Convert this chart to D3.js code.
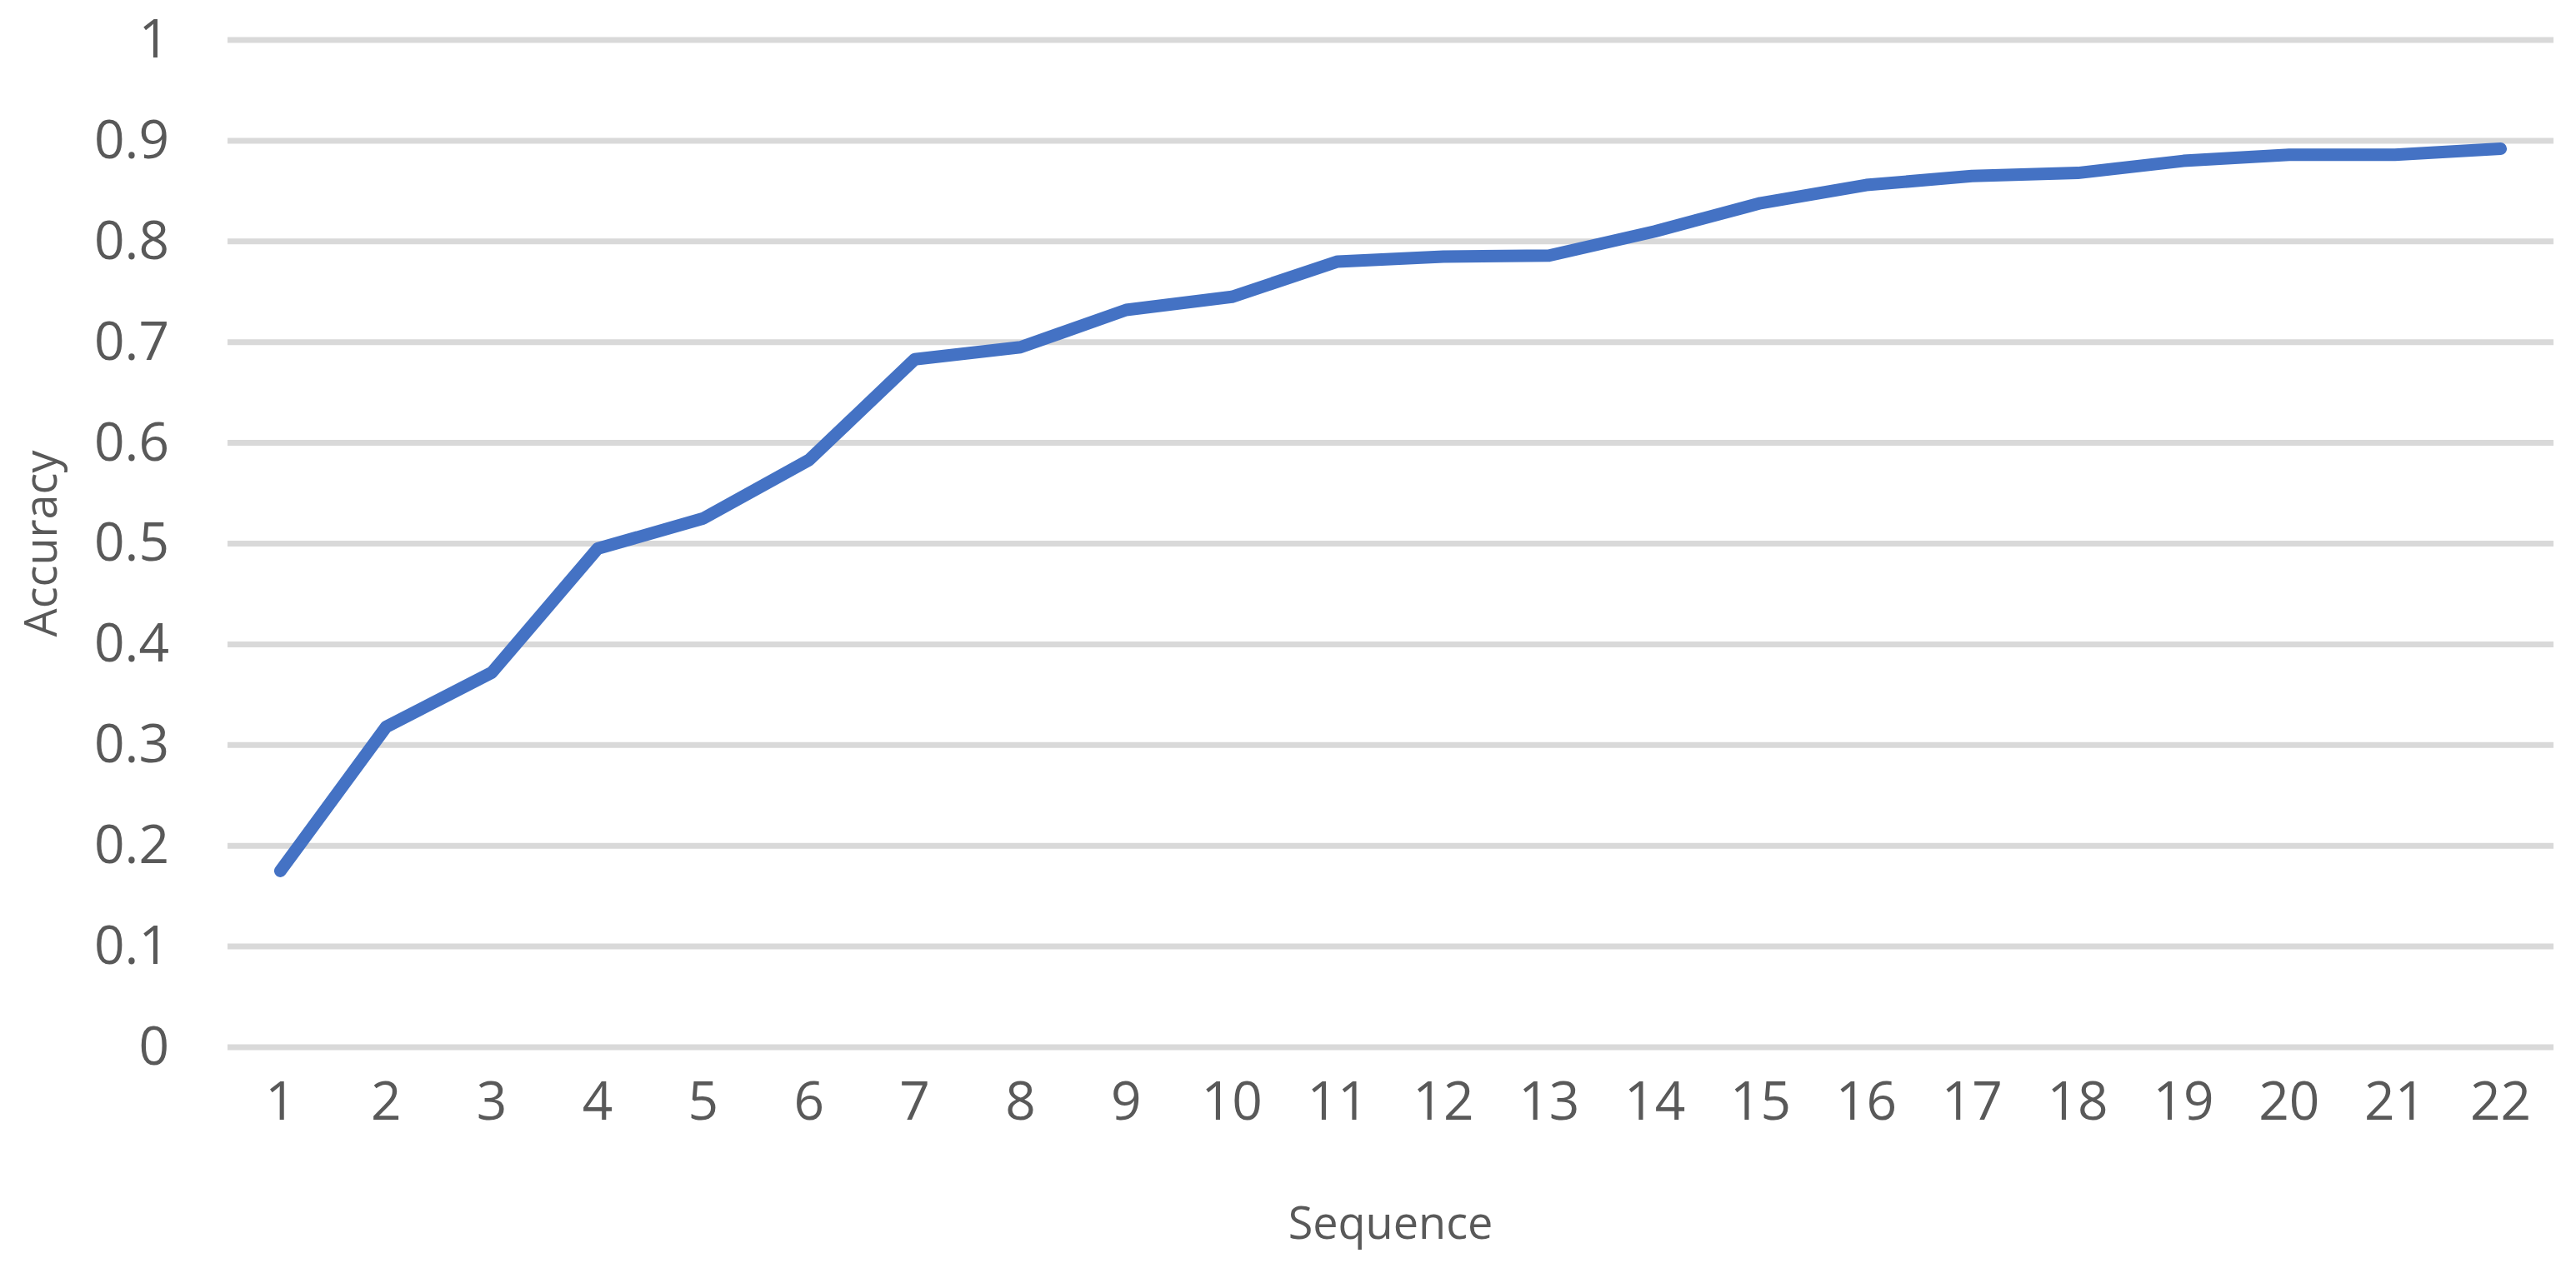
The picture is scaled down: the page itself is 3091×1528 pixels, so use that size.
<!DOCTYPE html>
<meta charset="utf-8">
<style>
  body { margin: 0; background: #fff; }
  text { font-family: "Open Sans", sans-serif; fill: #595959; }
</style>
<div id="chart"></div>
<script src="https://d3js.org/d3.v7.min.js"></script>
<script>
// data
var sequences = d3.range(1, 23);
var accuracy = [0.175, 0.318, 0.372, 0.495, 0.525, 0.583, 0.683, 0.695, 0.732, 0.745, 0.780,
                0.785, 0.786, 0.810, 0.838, 0.856, 0.865, 0.868, 0.880, 0.886, 0.886, 0.892];
var yTicks = [0, 0.1, 0.2, 0.3, 0.4, 0.5, 0.6, 0.7, 0.8, 0.9, 1];

var W = 3091, H = 1528;
var margin = {top: 48, right: 27, bottom: 271, left: 273};
var width = W - margin.left - margin.right,
    height = H - margin.top - margin.bottom;

var svg = d3.select("#chart").append("svg")
    .attr("width", W).attr("height", H)
  .append("g")
    .attr("transform", "translate(" + margin.left + "," + margin.top + ")");

var x = d3.scaleBand().domain(sequences).range([0, width]);
var y = d3.scaleLinear().domain([0, 1]).range([height, 0]);

// gridlines
svg.selectAll(".grid").data(yTicks).enter().append("line")
    .attr("x1", 0).attr("x2", width)
    .attr("y1", function(d) { return y(d); })
    .attr("y2", function(d) { return y(d); })
    .attr("stroke", "#d9d9d9").attr("stroke-width", 7);

// y axis labels
var yAxis = svg.append("g")
    .call(d3.axisLeft(y).tickValues(yTicks).tickSize(0).tickPadding(70).tickFormat(d3.format("~g")));
yAxis.select(".domain").remove();
yAxis.selectAll("text").style("font-size", "64px").attr("fill", "#595959");

// x axis labels
var xAxis = svg.append("g")
    .attr("transform", "translate(0," + height + ")")
    .call(d3.axisBottom(x).tickSize(0).tickPadding(42));
xAxis.select(".domain").remove();
xAxis.selectAll("text").style("font-size", "64px").attr("fill", "#595959");

// line
var line = d3.line()
    .x(function(d, i) { return x(sequences[i]) + x.bandwidth() / 2; })
    .y(function(d) { return y(d); });
svg.append("path").datum(accuracy)
    .attr("d", line)
    .attr("fill", "none")
    .attr("stroke", "#4472c4")
    .attr("stroke-width", 15)
    .attr("stroke-linecap", "round")
    .attr("stroke-linejoin", "round");

// axis titles
svg.append("text")
    .attr("x", width / 2).attr("y", height + 230)
    .attr("text-anchor", "middle")
    .style("font-size", "54px")
    .text("Sequence");
svg.append("text")
    .attr("transform", "translate(" + (-205) + "," + (height / 2) + ") rotate(-90)")
    .attr("text-anchor", "middle")
    .style("font-size", "54px")
    .text("Accuracy");
</script>
